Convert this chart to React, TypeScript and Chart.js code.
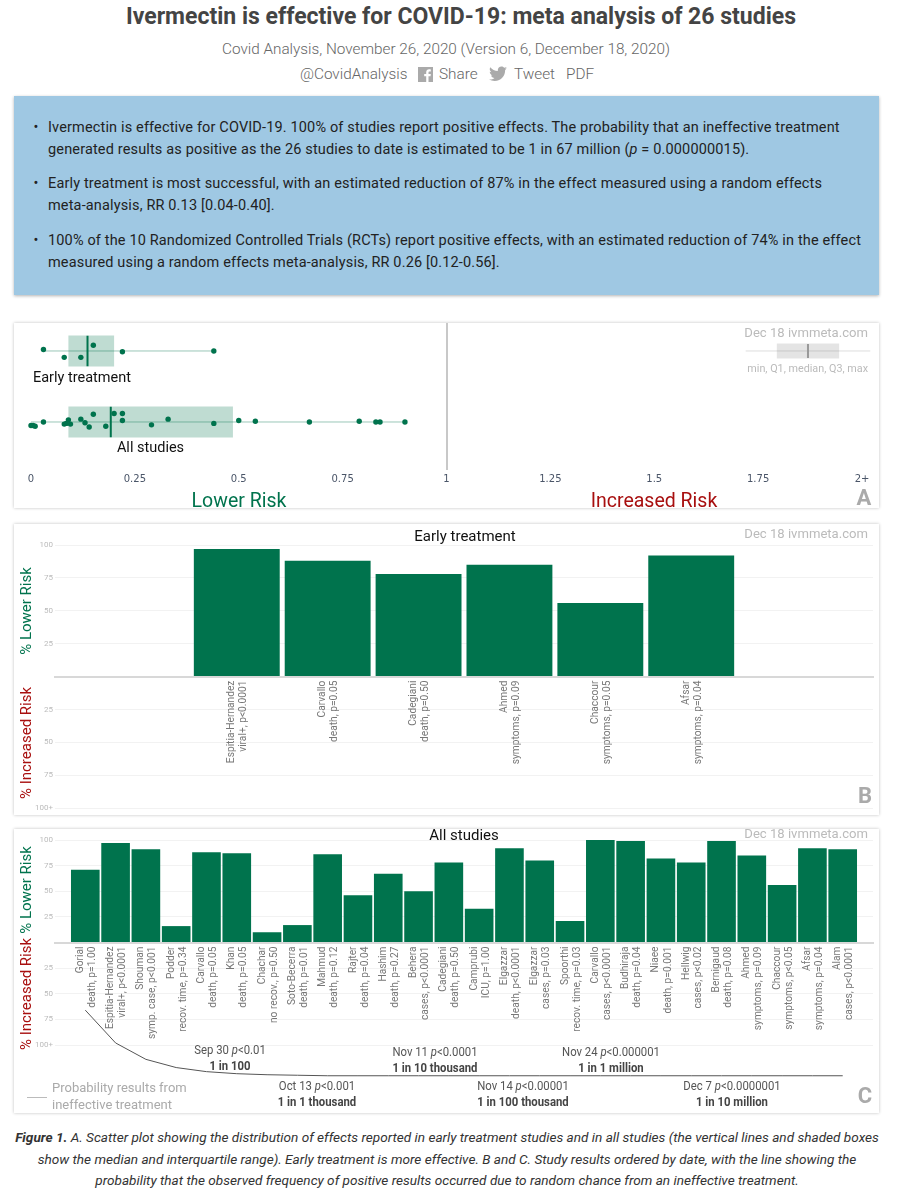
import React, { useEffect, useRef } from "react";
import { Chart, registerables } from "chart.js";
Chart.register(...registerables);

const GREEN = "#00734d";
const RED = "#a80f0f";

// Panel A values
const earlyRR = [0.03, 0.08, 0.12, 0.15, 0.22, 0.44];
const earlyJitter = [-0.02, 0.09, 0.09, -0.08, 0.01, 0];
const allRR = [0, 0.005, 0.01, 0.03, 0.08, 0.085, 0.09, 0.095, 0.12, 0.13, 0.14, 0.15, 0.18, 0.2, 0.22, 0.22, 0.29, 0.33, 0.44, 0.5, 0.54, 0.67, 0.79, 0.83, 0.84, 0.9];
const allJitter = [0.05, 0.05, 0.06, 0, 0.03, 0.02, -0.03, 0.03, -0.04, 0.01, 0.07, -0.11, 0.06, -0.12, -0.12, -0.02, 0.04, -0.04, 0.02, -0.02, -0.01, 0, -0.01, 0, 0, 0];
const earlyStats = [0.03, 0.09, 0.136, 0.2, 0.44];
const allStats = [0, 0.09, 0.192, 0.486, 0.9];
const keyStats = [1.72, 1.795, 1.87, 1.945, 2.02];
const riskTicks = [0, 0.25, 0.5, 0.75, 1, 1.25, 1.5, 1.75, 2];

// Panel B values
const earlyLabels = [
  ["Espitia-Hernandez", "viral+, p<0.0001"],
  ["Carvallo", "death, p=0.05"],
  ["Cadegiani", "death, p=0.50"],
  ["Ahmed", "symptoms, p=0.09"],
  ["Chaccour", "symptoms, p=0.05"],
  ["Afsar", "symptoms, p=0.04"],
];
const earlyValues = [97, 88, 78, 85, 56, 92];

// Panel C values
const allLabels = [
  ["Gorial", "death, p=1.00"],
  ["Espitia-Hernandez", "viral+, p<0.0001"],
  ["Shouman", "symp. case, p<0.001"],
  ["Podder", "recov. time, p=0.34"],
  ["Carvallo", "death, p=0.05"],
  ["Khan", "death, p=0.05"],
  ["Chachar", "no recov., p=0.50"],
  ["Soto-Becerra", "death, p=0.01"],
  ["Mahmud", "death, p=0.12"],
  ["Rajter", "death, p=0.04"],
  ["Hashim", "death, p=0.27"],
  ["Behera", "cases, p<0.0001"],
  ["Cadegiani", "death, p=0.50"],
  ["Camprubi", "ICU, p=1.00"],
  ["Elgazzar", "death, p<0.0001"],
  ["Elgazzar", "cases, p=0.03"],
  ["Spoorthi", "recov. time, p=0.03"],
  ["Carvallo", "cases, p<0.0001"],
  ["Budhiraja", "death, p=0.04"],
  ["Niaee", "death, p=0.001"],
  ["Hellwig", "cases, p<0.02"],
  ["Bernigaud", "death, p=0.08"],
  ["Ahmed", "symptoms, p=0.09"],
  ["Chaccour", "symptoms, p<0.05"],
  ["Afsar", "symptoms, p=0.04"],
  ["Alam", "cases, p<0.0001"],
];
const allValues = [71, 97, 91, 16, 88, 87, 10, 17, 86, 46, 67, 50, 78, 33, 92, 80, 21, 100, 99, 82, 78, 99, 85, 56, 92, 91];
const probabilityCurve = [-66, -98, -114, -122, -126, -128, -129, -129.5, -130, -130, -130, -130, -130, -130, -130, -130, -130, -130, -130, -130, -130, -130, -130, -130, -130, -130];

function boxDatasets(row: number, stats: number[], color: string, fill: string, whisker: string) {
  const [min, q1, med, q3, max] = stats;
  return [
    { data: [{ x: med, y: row - 0.215 }, { x: med, y: row + 0.215 }], showLine: true, borderColor: color, borderWidth: 2, pointRadius: 0, clip: false },
    { data: [{ x: q1, y: row }, { x: q3, y: row }], showLine: true, borderColor: fill, borderWidth: 31, borderCapStyle: "butt", pointRadius: 0, clip: false },
    { data: [{ x: min, y: row }, { x: max, y: row }], showLine: true, borderColor: whisker, borderWidth: 1, pointRadius: 0, clip: false },
  ];
}

function RiskChart() {
  const ref = useRef<HTMLCanvasElement>(null);
  useEffect(() => {
    const pts = (xs: number[], js: number[], row: number) => xs.map((x, i) => ({ x, y: row + js[i] }));
    const dotStyle = { showLine: false, pointRadius: 2.7, pointBackgroundColor: GREEN, pointBorderWidth: 0, clip: false };
    const chart = new Chart(ref.current!, {
      type: "scatter",
      data: {
        datasets: [
          { data: pts(earlyRR, earlyJitter, 1), ...dotStyle },
          { data: pts(allRR, allJitter, 2), ...dotStyle },
          ...boxDatasets(1, earlyStats, GREEN, "rgba(0,115,77,0.25)", "rgba(0,115,77,0.4)"),
          ...boxDatasets(2, allStats, GREEN, "rgba(0,115,77,0.25)", "rgba(0,115,77,0.4)"),
          ...boxDatasets(1, keyStats, "#999", "rgba(120,120,120,0.2)", "#ddd").map((d, i) => (i === 1 ? { ...d, borderWidth: 15 } : i === 0 ? { ...d, data: [{ x: keyStats[2], y: 0.9 }, { x: keyStats[2], y: 1.1 }] } : d)),
        ] as any,
      },
      options: {
        animation: false,
        responsive: false,
        devicePixelRatio: 1,
        events: [],
        layout: { autoPadding: false, padding: { left: 17, right: 17, top: 0, bottom: 0 } },
        plugins: { legend: { display: false }, tooltip: { enabled: false } },
        scales: {
          x: {
            type: "linear",
            min: 0,
            max: 2,
            afterFit: (s: any) => { s.height = 38; s.paddingLeft = 0; s.paddingRight = 0; },
            afterBuildTicks: (s: any) => { s.ticks = riskTicks.map((value) => ({ value })); },
            grid: { color: (c: any) => (c.tick && c.tick.value === 1 ? "#c8c8c8" : "transparent"), lineWidth: 2, drawTicks: false },
            border: { display: false },
            ticks: {
              autoSkip: false, maxRotation: 0, padding: 3,
              color: "#4a5568",
              font: { family: '"DejaVu Sans"', size: 10 },
              callback: (v: any) => (v === 2 ? "2+" : String(v)),
            },
          },
          y: { type: "linear", display: false, reverse: true, min: 0.606, max: 2.676 },
        },
      } as any,
    });
    return () => chart.destroy();
  }, []);
  return <canvas ref={ref} width={865} height={185} style={{ position: "absolute", left: 14, top: 323, width: 865, height: 185 }} />;
}

function StudyChart(props: { labels: string[][]; values: number[]; slots: [number, number]; top: number; height: number; padTop: number; padBottom: number; barPct: number; curve?: number[] }) {
  const ref = useRef<HTMLCanvasElement>(null);
  const { labels, values, slots, top, height, padTop, padBottom, barPct, curve } = props;
  useEffect(() => {
    const datasets: any[] = [
      { type: "bar", data: values.map((y, x) => ({ x, y })), backgroundColor: GREEN, barPercentage: barPct, categoryPercentage: 1, order: 2 },
    ];
    if (curve) {
      datasets.unshift({ type: "line", data: curve.map((y, x) => ({ x, y })), borderColor: "#555", borderWidth: 1, pointRadius: 0, tension: 0, clip: false, order: 1 });
    }
    const chart = new Chart(ref.current!, {
      type: "bar",
      data: { datasets },
      options: {
        animation: false,
        responsive: false,
        devicePixelRatio: 1,
        events: [],
        layout: { autoPadding: false, padding: { left: 0, right: 6, top: padTop, bottom: padBottom } },
        plugins: { legend: { display: false }, tooltip: { enabled: false } },
        scales: {
          x: {
            type: "linear",
            position: { y: 0 },
            offset: false,
            min: slots[0],
            max: slots[1],
            afterFit: (s: any) => { s.paddingLeft = 0; s.paddingRight = 0; },
            grid: { display: false, drawTicks: false, offset: false },
            border: { color: "#d8d8d8", width: 2 },
            ticks: {
              stepSize: 1,
              autoSkip: false,
              minRotation: 90,
              maxRotation: 90,
              padding: 4,
              labelOffset: -5,
              color: "#777",
              font: { family: "Roboto", size: 10.2, lineHeight: 1.18 },
              callback: (v: any) => labels[v] ?? "",
            },
          },
          y: {
            type: "linear",
            min: -100,
            max: 100,
            afterFit: (s: any) => { s.width = 41; },
            grid: { color: "#f2f2f2", lineWidth: 1, drawTicks: false },
            border: { display: false },
            ticks: {
              stepSize: 25,
              padding: 2,
              color: "#bbb",
              font: { family: "Roboto", size: 8 },
              callback: (v: any) => (v === 0 ? "" : v === -100 ? "100+" : String(Math.abs(v))),
            },
          },
        },
      } as any,
    });
    return () => chart.destroy();
  }, []);
  return <canvas ref={ref} width={865} height={height} style={{ position: "absolute", left: 14, top, width: 865, height }} />;
}

function T(p: { x: number; y: number; a?: "l" | "c" | "r"; s: any; rot?: boolean; sx?: number; children: any }) {
  const tx = p.a === "r" ? "-100%" : p.a === "l" ? "0" : "-50%";
  return (
    <div style={{ position: "absolute", left: p.x, top: p.y, whiteSpace: "nowrap", lineHeight: 1, fontFamily: "Roboto, sans-serif", transform: `translate(${tx},-50%)${p.rot ? " rotate(-90deg)" : ""}${p.sx ? ` scaleX(${p.sx})` : ""}`, ...p.s }}>
      {p.children}
    </div>
  );
}

const panel = (top: number, height: number): any => ({ position: "absolute", left: 14, top, width: 865, height, background: "#fff", boxShadow: "0 0 3px rgba(0,0,0,0.25)" });
const stamp = { fontSize: 13.1, color: "#bbb" };
const letter = { fontSize: 22, fontWeight: 700, color: "#aaa" };
const noteA = { fontSize: 13.5, color: "#555" };
const noteB = { fontSize: 13.5, color: "#444", fontWeight: 700 };
const bodyText = { fontSize: 14.5, color: "#222", letterSpacing: 0.15 };
const captionText = { fontSize: 13.6, fontStyle: "italic", color: "#333" };
const head = { fontSize: 15.3, fontWeight: 300, color: "#666" };

const summaryLines: [number, string | any][] = [
  [128, "Ivermectin is effective for COVID-19. 100% of studies report positive effects. The probability that an ineffective treatment"],
  [150, <>generated results as positive as the 26 studies to date is estimated to be 1 in 67 million (<i>p</i> = 0.000000015).</>],
  [184, "Early treatment is most successful, with an estimated reduction of 87% in the effect measured using a random effects"],
  [206, "meta-analysis, RR 0.13 [0.04-0.40]."],
  [241, "100% of the 10 Randomized Controlled Trials (RCTs) report positive effects, with an estimated reduction of 74% in the effect"],
  [263, "measured using a random effects meta-analysis, RR 0.26 [0.12-0.56]."],
];
const bulletRows = [128, 184, 241];

const notes: [number, number, any, string][] = [
  [230, 1050, <>Sep 30 <i>p</i>&lt;0.01</>, "1 in 100"],
  [435, 1052, <>Nov 11 <i>p</i>&lt;0.0001</>, "1 in 10 thousand"],
  [611, 1052, <>Nov 24 <i>p</i>&lt;0.000001</>, "1 in 1 million"],
  [317, 1086, <>Oct 13 <i>p</i>&lt;0.001</>, "1 in 1 thousand"],
  [523, 1086, <>Nov 14 <i>p</i>&lt;0.00001</>, "1 in 100 thousand"],
  [732, 1086, <>Dec 7 <i>p</i>&lt;0.0000001</>, "1 in 10 million"],
];

export default function App() {
  useEffect(() => { document.body.style.margin = "0"; }, []);
  return (
    <div style={{ position: "absolute", left: 0, top: 0, width: 913, height: 1200, background: "#fff", overflow: "hidden" }}>
      <T x={461} y={16} s={{ fontSize: 23, fontWeight: 700, color: "#444" }} sx={1}>Ivermectin is effective for COVID-19: meta analysis of 26 studies</T>
      <T x={446} y={50} s={head}>Covid Analysis, November 26, 2020 (Version 6, December 18, 2020)</T>
      <T x={300} y={75} a="l" s={head}>@CovidAnalysis</T>
      <svg style={{ position: "absolute", left: 418, top: 67 }} width={15} height={15} viewBox="0 0 15 15">
        <rect width={15} height={15} fill="#aaa" />
        <path d="M10.5 15V9.2h2l.3-2.3h-2.3V5.5c0-.7.2-1.1 1.1-1.1h1.2v-2c-.2 0-.9-.1-1.7-.1-1.7 0-2.9 1-2.9 3v1.6h-2v2.3h2V15z" fill="#fff" />
      </svg>
      <T x={439} y={75} a="l" s={head}>Share</T>
      <svg style={{ position: "absolute", left: 489, top: 66 }} width={18} height={16} viewBox="0 0 24 20">
        <path d="M24 2.4c-.9.4-1.8.7-2.8.8 1-.6 1.8-1.6 2.2-2.7-1 .6-2 1-3.1 1.2C19.3.7 18 0 16.6 0c-2.7 0-4.9 2.2-4.9 4.9 0 .4 0 .8.1 1.1C7.7 5.8 4.1 3.8 1.7.9c-.4.7-.7 1.6-.7 2.5 0 1.7.9 3.2 2.2 4.1-.8 0-1.6-.2-2.2-.6v.1c0 2.4 1.7 4.4 3.9 4.8-.4.1-.8.2-1.3.2-.3 0-.6 0-.9-.1.6 2 2.4 3.4 4.6 3.4-1.7 1.3-3.8 2.1-6.1 2.1-.4 0-.8 0-1.2-.1C2.2 18.4 4.8 19.2 7.5 19.2c9.1 0 14-7.5 14-14v-.6c1-.7 1.8-1.6 2.5-2.2z" fill="#aaa" />
      </svg>
      <T x={514} y={75} a="l" s={head}>Tweet</T>
      <T x={566} y={75} a="l" s={head}>PDF</T>

      <div style={{ position: "absolute", left: 14, top: 96, width: 865, height: 199, background: "#9fc8e3", boxShadow: "0 1px 3px rgba(0,0,0,0.3)" }} />
      {bulletRows.map((y) => <T key={y} x={36} y={y} s={bodyText}>•</T>)}
      {summaryLines.map(([y, line]) => <T key={y} x={48} y={y} a="l" s={bodyText}>{line}</T>)}

      <div style={panel(323, 185)} />
      <RiskChart />
      <T x={82} y={378} s={{ fontSize: 14.5, color: "#111" }}>Early treatment</T>
      <T x={150.5} y={448} s={{ fontSize: 14.5, color: "#111" }}>All studies</T>
      <T x={868} y={333} a="r" s={stamp}>Dec 18 ivmmeta.com</T>
      <T x={868} y={369} a="r" s={{ fontSize: 10.8, color: "#bbb" }}>min, Q1, median, Q3, max</T>
      <T x={239} y={501} s={{ fontSize: 19.5, color: GREEN }}>Lower Risk</T>
      <T x={654} y={501} s={{ fontSize: 19.5, color: RED }}>Increased Risk</T>
      <T x={864} y={498} s={letter}>A</T>

      <div style={panel(524, 291)} />
      <StudyChart labels={earlyLabels} values={earlyValues} slots={[-2, 7]} top={524} height={291} padTop={21} padBottom={6} barPct={0.945} />
      <T x={465} y={536} s={{ fontSize: 15, color: "#111" }}>Early treatment</T>
      <T x={868} y={534} a="r" s={stamp}>Dec 18 ivmmeta.com</T>
      <T x={26} y={611} rot s={{ fontSize: 15, color: GREEN }}>% Lower Risk</T>
      <T x={26} y={743} rot s={{ fontSize: 15, color: RED }}>% Increased Risk</T>
      <T x={865} y={796} s={letter}>B</T>

      <div style={panel(829, 284)} />
      <StudyChart labels={allLabels} values={allValues} slots={[-1, 26]} top={829} height={284} padTop={11} padBottom={68} barPct={0.945} curve={probabilityCurve} />
      <T x={464} y={835} s={{ fontSize: 15, color: "#111" }}>All studies</T>
      <T x={868} y={834} a="r" s={stamp}>Dec 18 ivmmeta.com</T>
      <T x={26} y={890} rot s={{ fontSize: 15, color: GREEN }}>% Lower Risk</T>
      <T x={26} y={994} rot s={{ fontSize: 15, color: RED }}>% Increased Risk</T>
      {notes.map(([x, y, a, b]) => (
        <React.Fragment key={x}>
          <T x={x} y={y} s={noteA} sx={0.84}>{a}</T>
          <T x={x} y={y + 16} s={noteB} sx={0.84}>{b}</T>
        </React.Fragment>
      ))}
      <div style={{ position: "absolute", left: 27, top: 1097, width: 20, height: 1, background: "#bbb" }} />
      <T x={52} y={1087} a="l" s={{ fontSize: 13, color: "#aaa" }}>Probability results from</T>
      <T x={52} y={1104} a="l" s={{ fontSize: 13, color: "#aaa" }}>ineffective treatment</T>
      <T x={865} y={1096} s={letter}>C</T>

      <T x={447} y={1138} s={captionText}><b>Figure 1.</b> A. Scatter plot showing the distribution of effects reported in early treatment studies and in all studies (the vertical lines and shaded boxes</T>
      <T x={447} y={1160} s={captionText}>show the median and interquartile range). Early treatment is more effective. B and C. Study results ordered by date, with the line showing the</T>
      <T x={447} y={1181} s={captionText}>probability that the observed frequency of positive results occurred due to random chance from an ineffective treatment.</T>
    </div>
  );
}
